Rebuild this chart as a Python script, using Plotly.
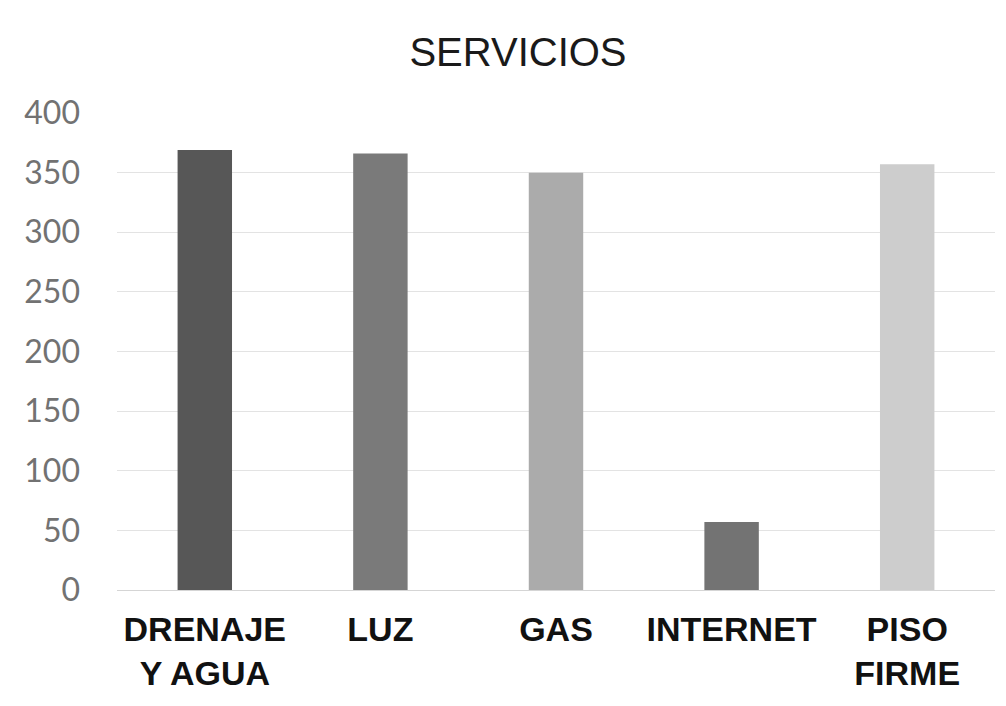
import plotly.graph_objects as go

categories = ["DRENAJE<br>Y AGUA", "LUZ", "GAS", "INTERNET", "PISO<br>FIRME"]
values = [369, 366, 350, 57, 357]
colors = ["#575757", "#7a7a7a", "#ababab", "#737373", "#cdcdcd"]
tick_vals = [0, 50, 100, 150, 200, 250, 300, 350, 400]

fig = go.Figure()
fig.add_trace(go.Bar(x=categories, y=values, marker=dict(color=colors, line=dict(width=0)), width=0.31))

fig.update_layout(
    width=998, height=698,
    paper_bgcolor="white", plot_bgcolor="white",
    margin=dict(l=109, r=11, t=105, b=116, autoexpand=False),
    showlegend=False,
    title=dict(text="SERVICIOS", x=0.511, xanchor="center", y=0.937, yanchor="middle",
               font=dict(family="Liberation Sans, Arial", size=40, color="#1a1a1a")),
    xaxis=dict(showgrid=False, showline=False, ticks="", ticklabelstandoff=16, automargin=False,
               tickfont=dict(family="Liberation Sans, Arial", size=34, color="#111111"),
               tickprefix="<b>", ticksuffix="</b>"),
    yaxis=dict(range=[0, 400], tickvals=tick_vals, showgrid=True, gridcolor="#e3e3e3", gridwidth=1,
               zeroline=True, zerolinecolor="#d5d5d5", zerolinewidth=1, showline=False,
               ticklabelstandoff=36, automargin=False,
               tickfont=dict(family="Lato, Open Sans", size=32, color="#727272")),
    bargap=0.69,
)

fig.write_html("out.html")
